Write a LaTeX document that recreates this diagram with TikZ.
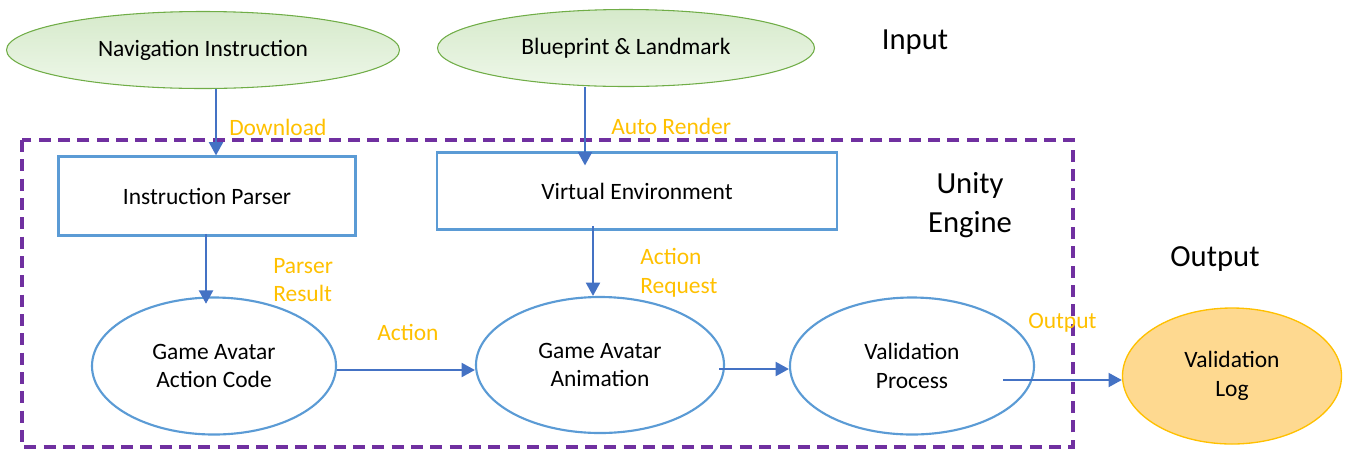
\documentclass[tikz,border=0pt]{standalone}
\usepackage{fontspec}
\setmainfont{Carlito}
\usetikzlibrary{arrows.meta}
\usetikzlibrary{shapes.geometric}
\usetikzlibrary{calc}

\definecolor{boxblue}{RGB}{91,155,213}
\definecolor{arrowblue}{RGB}{68,114,196}
\definecolor{engpurple}{RGB}{112,48,160}
\definecolor{lblorange}{RGB}{255,192,0}
\definecolor{inborder}{RGB}{112,173,71}
\definecolor{intop}{RGB}{214,234,203}
\definecolor{inbottom}{RGB}{238,247,233}
\definecolor{logfill}{RGB}{254,217,144}
\definecolor{logborder}{RGB}{255,192,0}

\begin{document}
\begin{tikzpicture}[x=0.75pt, y=-0.75pt,
	every node/.style={font=\fontsize{17.6}{21.6}\selectfont, inner sep=0pt},
	inputnode/.style={ellipse, draw=inborder, line width=0.8pt, top color=intop, bottom color=inbottom},
	procbox/.style={rectangle, draw=boxblue, line width=1.6pt},
	procellipse/.style={ellipse, draw=boxblue, line width=1.6pt, align=center},
	flow/.style={draw=arrowblue, line width=1.6pt, -{Triangle[length=10pt,width=10.5pt]}},
	flowlabel/.style={text=lblorange, align=left},
	heading/.style={font=\fontsize{23}{29}\selectfont, align=center}]
	\useasboundingbox (0,0) rectangle (1348,451);

	% draw unity engine frame
	\draw[engpurple, line width=3pt, dash pattern=on 9pt off 5.5pt] (22,140) rectangle (1073,447);

	% draw input nodes
	\node[inputnode, minimum width=294.75pt, minimum height=57.75pt] (nav) at (203,50) {Navigation Instruction};
	\node[inputnode, minimum width=282.75pt, minimum height=57.75pt] (bp) at (626,48) {Blueprint \& Landmark};
	\node[heading] (input) at (915,42) {Input};

	% draw engine nodes
	\node[heading] (unity) at (970,205) {Unity\\Engine};
	\node[procbox, minimum width=222.75pt, minimum height=59.25pt] (parser) at (207,196) {Instruction Parser};
	\node[procbox, minimum width=300pt, minimum height=57.75pt] (venv) at (637,191) {Virtual Environment};
	\node[procellipse, minimum width=183pt, minimum height=102.75pt] (code) at (214,366) {Game Avatar\\Action Code};
	\node[procellipse, minimum width=186pt, minimum height=102pt] (anim) at (600,365) {Game Avatar\\Animation};
	\node[procellipse, minimum width=183pt, minimum height=102.75pt] (valid) at (912,366) {Validation\\Process};

	% draw output node
	\node[heading] (output) at (1215,259) {Output};
	\node[ellipse, draw=logborder, fill=logfill, line width=1pt, align=center, minimum width=164.25pt, minimum height=102pt] (log) at (1232,376) {Validation\\Log};

	% draw the flow arrows
	\draw[flow] ([xshift=9.75pt]nav.south) -- ([xshift=9.75pt]nav.south |- parser.north);
	\draw[flow, shorten >=-10.5pt] ([xshift=-30.75pt]bp.south) -- ([xshift=-30.75pt]bp.south |- venv.north);
	\draw[flow, shorten >=-5.5pt] ([xshift=-0.75pt,yshift=2pt]parser.south) -- ([xshift=-0.75pt]parser.south |- code.north);
	\draw[flow] ([xshift=-33pt,yshift=3.5pt]venv.south) -- ([xshift=-33pt]venv.south |- anim.north);
	\draw[flow] ([yshift=-3pt]code.east) -- ([yshift=-3pt]code.east -| anim.west);
	\draw[flow] ([xshift=-4.5pt,yshift=-3pt]anim.east) -- ([yshift=-3pt]anim.east -| valid.west);
	\draw[flow] ([xshift=-24pt,yshift=-10.5pt]valid.east) -- ([yshift=-10.5pt]valid.east -| log.west);

	% draw the arrow labels
	\node[flowlabel, anchor=west] (dl) at (229,127) {Download};
	\node[flowlabel, anchor=west] (render) at (611,126) {Auto Render};
	\node[flowlabel, anchor=west] (presult) at (273,280) {Parser\\Result};
	\node[flowlabel, anchor=west] (act) at (377,332) {Action};
	\node[flowlabel, anchor=west] (areq) at (640,273) {Action\\Request};
	\node[flowlabel, anchor=west] (outlbl) at (1028,323) {Output};
\end{tikzpicture}
\end{document}
